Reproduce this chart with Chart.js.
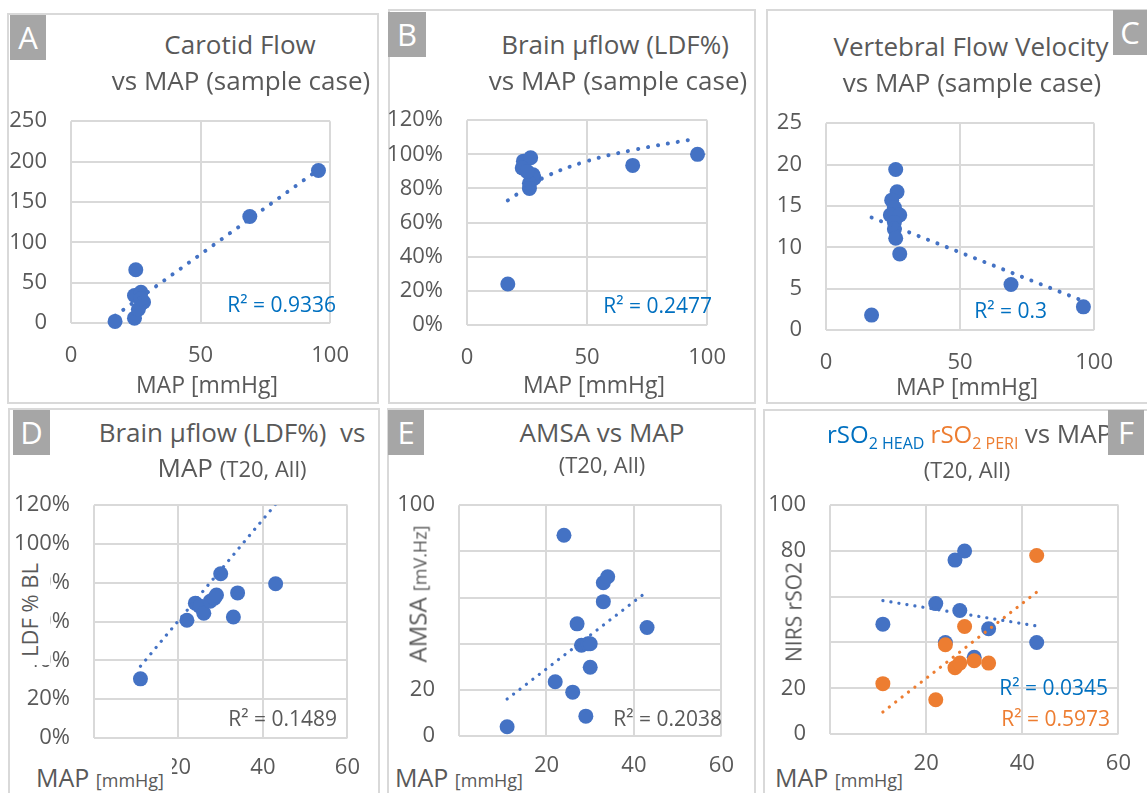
<!DOCTYPE html>
<html>
<head>
<meta charset="utf-8">
<script src="https://cdn.jsdelivr.net/npm/chart.js@4.4.1/dist/chart.umd.min.js"></script>
<style>
  body { margin: 0; background: #fff; font-family: 'Open Sans', sans-serif; color: #595959; }
  #fig { position: relative; width: 1147px; height: 793px; overflow: hidden; }
  .box { position: absolute; border: 2px solid #d9d9d9; box-sizing: border-box; }
  .tag { position: absolute; background: #a6a6a6; color: #fff; font-size: 31px; text-align: center; height: 45px; line-height: 45px; }
  .t { position: absolute; white-space: nowrap; font-size: 26px; transform: translate(-50%, -50%); line-height: 1.1; }
  .r2 { position: absolute; white-space: nowrap; font-size: 21px; transform: translate(-100%, -50%); }
  .xt { position: absolute; white-space: nowrap; background: #fff; line-height: 30px; padding: 10px 8px 0 4px; font-size: 25px; }
  .yt { position: absolute; white-space: nowrap; background: #fff; font-size: 22px; transform: translate(-50%, -50%) rotate(-90deg); }
  .sm { font-size: 18px; }
  .sub { font-size: 16px; }
  .mid { font-size: 22px; }
  .blue { color: #0070c0; }
  .orange { color: #ed7d31; }
  canvas { position: absolute; }
</style>
</head>
<body>
<div id="fig">
  <div class="box" style="left:7px;top:13px;width:372px;height:391px"></div>
  <div class="box" style="left:388px;top:9px;width:368px;height:395px"></div>
  <div class="box" style="left:766px;top:9px;width:400px;height:395px"></div>
  <div class="box" style="left:8px;top:408px;width:372px;height:400px"></div>
  <div class="box" style="left:387px;top:408px;width:369px;height:400px"></div>
  <div class="box" style="left:763px;top:409px;width:400px;height:400px"></div>

  <canvas id="cA"></canvas>
  <canvas id="cB"></canvas>
  <canvas id="cC"></canvas>
  <canvas id="cD"></canvas>
  <canvas id="cE"></canvas>
  <canvas id="cF"></canvas>

  <!-- titles -->
  <div class="t" style="left:240px;top:44px">Carotid Flow</div>
  <div class="t" style="left:241px;top:80px">vs MAP (sample case)</div>
  <div class="t" style="left:615px;top:44px">Brain µflow (LDF%)</div>
  <div class="t" style="left:618px;top:80px">vs MAP (sample case)</div>
  <div class="t" style="left:971px;top:46px">Vertebral Flow Velocity</div>
  <div class="t" style="left:972px;top:82px">vs MAP (sample case)</div>
  <div class="t" style="left:232px;top:432px">Brain µflow (LDF%)&nbsp; vs</div>
  <div class="t" style="left:232px;top:467px">MAP <span class="mid">(T20, All)</span></div>
  <div class="t" style="left:602px;top:432px">AMSA vs MAP</div>
  <div class="t mid" style="left:602px;top:464px">(T20, All)</div>
  <div class="t" style="left:827px;top:436px;transform:translate(0,-50%);font-size:24px"><span class="blue">rSO<sub class="sub">2 HEAD</sub></span> <span class="orange">rSO<sub class="sub">2 PERI</sub></span> <span style="font-size:26px">vs MAP</span></div>
  <div class="t mid" style="left:967px;top:469px">(T20, All)</div>

  <!-- axis titles -->
  <div class="t" style="left:207px;top:385px;font-size:23px">MAP [mmHg]</div>
  <div class="t" style="left:594px;top:385px;font-size:23px">MAP [mmHg]</div>
  <div class="t" style="left:967px;top:387px;font-size:23px">MAP [mmHg]</div>
  <div class="xt" style="left:32px;top:752px">MAP <span class="sm">[mmHg]</span></div>
  <div class="xt" style="left:391px;top:752px">MAP <span class="sm">[mmHg]</span></div>
  <div class="xt" style="left:771px;top:752px">MAP <span class="sm">[mmHg]</span></div>
  <div class="yt" style="left:32px;top:610px;line-height:30px;padding:0 8px 7px 8px">LDF % BL</div>
  <div class="yt" style="left:422px;top:594px;line-height:28px;padding:0 6px 7px 6px;font-size:24px">AMSA <span class="sm">[mV.Hz]</span></div>
  <div class="yt" style="left:795px;top:612px;line-height:30px;padding:0 2px 3px 2px;font-size:21px">NIRS rSO2</div>

  <!-- R² labels -->
  <div class="r2 blue" style="left:336px;top:304px">R² = 0.9336</div>
  <div class="r2 blue" style="left:712px;top:305px">R² = 0.2477</div>
  <div class="r2 blue" style="left:1047px;top:310px">R² = 0.3</div>
  <div class="r2" style="left:337px;top:718px">R² = 0.1489</div>
  <div class="r2" style="left:722px;top:718px">R² = 0.2038</div>
  <div class="r2 blue" style="left:1108px;top:687px">R² = 0.0345</div>
  <div class="r2 orange" style="left:1110px;top:718px">R² = 0.5973</div>

  <!-- panel letters -->
  <div class="tag" style="left:10px;top:15px;width:36px">A</div>
  <div class="tag" style="left:388px;top:12px;width:38px">B</div>
  <div class="tag" style="left:1113px;top:10px;width:34px">C</div>
  <div class="tag" style="left:13px;top:410px;width:37px">D</div>
  <div class="tag" style="left:388px;top:410px;width:36px">E</div>
  <div class="tag" style="left:1108px;top:410px;width:36px">F</div>
</div>

<script>
// A: carotid flow vs MAP (sample case)
const carotidMap  = [17, 24.5, 25, 24.5, 27, 28, 26, 27, 69, 95.5];
const carotidFlow = [2, 6, 66, 34, 38, 26, 17, 30, 132, 189];
const carotidTrendMap  = [17, 95.5];
const carotidTrendFlow = [9, 190];

// B: brain microflow (LDF%) vs MAP (sample case), log trend
const brainMap = [17, 23.5, 26.5, 23, 27.5, 28, 26, 26, 25, 69, 96];
const brainLdf = [24, 96, 98, 92, 88, 86, 83, 80, 90, 93.5, 100];
const brainTrendMap = [17, 31.5, 50, 69.5, 96];
const brainTrendLdf = [73, 86, 96, 102.6, 109.3];

// C: vertebral flow velocity vs MAP (sample case)
const vertMap = [17, 26, 26.5, 24.5, 25.5, 24, 27.5, 25.5, 25.5, 26, 27.5, 69, 96];
const vertVel = [1.8, 19.4, 16.7, 15.7, 14.8, 13.9, 13.9, 13, 12.2, 11.1, 9.2, 5.5, 2.8];
const vertTrendMap = [17, 96];
const vertTrendVel = [13.6, 3.5];

// D: LDF % BL vs MAP (T20, all)
const ldfMap = [11, 22, 24, 25, 26, 27.5, 28.5, 29, 30, 33, 34, 43];
const ldfPct = [30.5, 60.7, 69.5, 68, 64.3, 70.5, 72, 73.7, 84.7, 62.4, 74.8, 79.5];
const ldfTrendMap = [11, 43];
const ldfTrendPct = [37, 120.5];

// E: AMSA vs MAP (T20, all)
const amsaMap = [11, 22, 24, 26, 27, 28, 29, 29.5, 30, 30, 33, 33, 34, 43];
const amsaVal = [4, 23.5, 87, 19, 48.6, 39.3, 8.6, 40, 40, 29.8, 58.2, 66.4, 69, 47];
const amsaTrendMap = [11, 43];
const amsaTrendVal = [16, 62.6];

// F: NIRS rSO2 head / peripheral vs MAP (T20, all)
const headMap = [11, 22, 24, 26, 28, 27, 30, 33, 43];
const headSo2 = [48, 57, 40, 76, 80, 54, 33.5, 46, 40];
const periMap = [11, 22, 24, 26, 27, 28, 30, 33, 43];
const periSo2 = [22, 15, 39, 29, 31, 47, 32, 31, 78];
const headTrendMap = [11, 43];
const headTrendSo2 = [58.3, 47.2];
const periTrendMap = [11, 43];
const periTrendSo2 = [9.6, 62];

const BLUE = '#4472c4', ORANGE = '#ed7d31';
const FONT = "'Open Sans', sans-serif";
Chart.defaults.font.family = FONT;
Chart.defaults.color = '#595959';

const pts = (xs, ys) => xs.map((x, i) => ({ x, y: ys[i] }));

function scatterPanel(id, area, xr, yr, sets, dot, pct) {
  const [L, T, R, B] = area;
  const padL = 80, padT = 15, padR = 25, padB = 50;
  const cv = document.getElementById(id);
  cv.style.left = (L - padL) + 'px';
  cv.style.top = (T - padT) + 'px';
  cv.width = R - L + padL + padR;
  cv.height = B - T + padT + padB;

  const datasets = sets.map(s => s.trend ? {
    data: pts(s.xs, s.ys),
    showLine: true, pointRadius: 0,
    borderColor: s.color, borderWidth: dot.w,
    borderDash: [0.1, dot.gap], borderCapStyle: 'round',
    tension: s.curve ? 0.4 : 0,
    order: 0
  } : {
    data: pts(s.xs, s.ys),
    pointRadius: 7.5, backgroundColor: s.color, borderWidth: 0,
    clip: false, order: s.order || 2
  });

  new Chart(cv, {
    type: 'scatter',
    data: { datasets },
    options: {
      responsive: false,
      animation: false,
      layout: { autoPadding: false, padding: { top: padT, right: padR, left: 0, bottom: 0 } },
      plugins: { legend: { display: false }, tooltip: { enabled: false } },
      scales: {
        x: {
          type: 'linear', min: xr[0], max: xr[1],
          ticks: { stepSize: xr[2], autoSkip: false, padding: dot.xpad, font: { size: 22 }, maxRotation: 0 },
          grid: { color: '#d9d9d9', lineWidth: 2, drawTicks: false },
          border: { display: false },
          afterFit: s => { s.height = padB; }
        },
        y: {
          min: yr[0], max: yr[1],
          ticks: { stepSize: yr[2], autoSkip: false, padding: 24, font: { size: 22 },
                   callback: v => pct ? v + '%' : v },
          grid: { color: '#d9d9d9', lineWidth: 2, drawTicks: false },
          border: { display: false },
          afterFit: s => { s.width = padL; }
        }
      }
    }
  });
}

const topDot = { w: 4, gap: 10, xpad: 20 };
const lowDot = { w: 3.2, gap: 8, xpad: 17 };

scatterPanel('cA', [71, 99, 344, 323], [0, 100, 50], [0, 250, 50], [
  { xs: carotidMap, ys: carotidFlow, color: BLUE },
  { xs: carotidTrendMap, ys: carotidTrendFlow, color: BLUE, trend: true }
], topDot);

scatterPanel('cB', [467, 98, 721, 325], [0, 100, 50], [0, 120, 20], [
  { xs: brainMap, ys: brainLdf, color: BLUE },
  { xs: brainTrendMap, ys: brainTrendLdf, color: BLUE, trend: true, curve: true }
], topDot, true);

scatterPanel('cC', [826, 101, 1108, 330], [0, 100, 50], [0, 25, 5], [
  { xs: vertMap, ys: vertVel, color: BLUE },
  { xs: vertTrendMap, ys: vertTrendVel, color: BLUE, trend: true }
], topDot);

scatterPanel('cD', [94, 483, 352, 738], [0, 60, 20], [0, 120, 20], [
  { xs: ldfMap, ys: ldfPct, color: BLUE },
  { xs: ldfTrendMap, ys: ldfTrendPct, color: BLUE, trend: true }
], lowDot, true);

scatterPanel('cE', [459, 483, 726, 736], [0, 60, 20], [0, 100, 20], [
  { xs: amsaMap, ys: amsaVal, color: BLUE },
  { xs: amsaTrendMap, ys: amsaTrendVal, color: BLUE, trend: true }
], lowDot);

scatterPanel('cF', [830, 483, 1123, 734], [0, 60, 20], [0, 100, 20], [
  { xs: headMap, ys: headSo2, color: BLUE, order: 2 },
  { xs: periMap, ys: periSo2, color: ORANGE, order: 1 },
  { xs: headTrendMap, ys: headTrendSo2, color: BLUE, trend: true },
  { xs: periTrendMap, ys: periTrendSo2, color: ORANGE, trend: true }
], lowDot);
</script>
</body>
</html>
